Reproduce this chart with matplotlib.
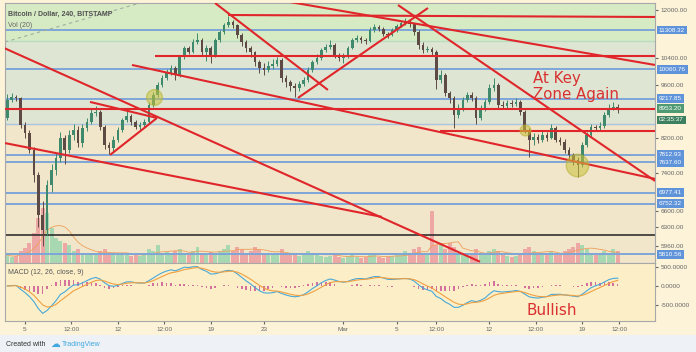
import numpy as np
import pandas as pd
import matplotlib.pyplot as plt
from matplotlib.transforms import blended_transform_factory
from matplotlib.patches import Rectangle

plt.rcParams['font.family'] = ['Liberation Sans', 'DejaVu Sans']

# BTC/USD in 8h steps, day 0 = Feb 5 (first candle Feb 3 16:00)
first_open = 8700
closes = [9189, 9271, 9244, 8532, 8332, 7923, 7357, 6534, 6249, 7142,
          7467, 7737, 8210, 7923, 8283, 8407, 8089, 8457, 8609, 8841,
          8868, 8482, 8041, 7970, 8161, 8407, 8660, 8763, 8609, 8482,
          8532, 8609, 9054, 9326, 9607, 9809, 9955, 10104, 9896, 10439,
          10721, 10595, 10914, 10978, 10595, 10721, 10501, 10978, 11242, 11478,
          11581, 11478, 11143, 10914, 10721, 10595, 10285, 10104, 10044, 10164,
          10224, 10346, 9809, 9693, 9579, 9522, 9636, 9751, 10044, 10285,
          10408, 10658, 10753, 10817, 10501, 10408, 10470, 10721, 10978, 11044,
          10978, 10946, 11309, 11410, 11343, 11176, 11143, 11309, 11444, 11546,
          11581, 11512, 11242, 10817, 10658, 10689, 10595, 9751, 9896, 9382,
          9244, 8789, 8974, 9189, 9326, 9244, 8711, 8974, 9135, 9522,
          9607, 9054, 9027, 9108, 9081, 9135, 8868, 8407, 8161, 8234,
          8161, 8283, 8210, 8457, 8161, 8113, 7923, 7806, 7691, 7578,
          8041, 8283, 8482, 8457, 8507, 8789, 8974, 9000, 8953]
highs = [9350, 9380, 9330, 9280, 8600, 8400, 8000, 7420, 6800, 7250,
         7600, 7850, 8350, 8290, 8400, 8550, 8500, 8560, 8700, 8950,
         9030, 8920, 8540, 8120, 8250, 8480, 8720, 8950, 8820, 8660,
         8600, 8680, 9120, 9420, 9700, 9900, 10080, 10200, 10150, 10500,
         10800, 10780, 11000, 11200, 11050, 10820, 10780, 11050, 11300, 11560,
         11780, 11650, 11520, 11200, 10980, 10780, 10640, 10350, 10250, 10300,
         10380, 10450, 10400, 9900, 9760, 9650, 9720, 9850, 10120, 10350,
         10520, 10720, 10850, 10980, 10880, 10560, 10550, 10800, 11050, 11150,
         11120, 11050, 11400, 11500, 11480, 11400, 11250, 11380, 11520, 11620,
         11720, 11640, 11560, 11300, 10900, 10780, 10760, 10650, 10050, 9950,
         9450, 9300, 9080, 9280, 9420, 9400, 9300, 9050, 9220, 9620,
         9800, 9660, 9150, 9200, 9180, 9250, 9200, 8920, 8460, 8320,
         8300, 8380, 8350, 8560, 8500, 8220, 8180, 7990, 7860, 7760,
         8120, 8350, 8560, 8540, 8600, 8860, 9080, 9120, 9080]
lows = [8650, 9120, 9150, 8450, 8200, 7850, 7200, 6300, 5950, 6150,
        7000, 7350, 7650, 7600, 7850, 8150, 7980, 8000, 8380, 8550,
        8760, 8400, 7950, 7820, 7900, 8100, 8350, 8600, 8540, 8420,
        8400, 8470, 8580, 9000, 9280, 9550, 9750, 9900, 9750, 9850,
        10380, 10520, 10550, 10850, 10500, 10300, 10250, 10450, 10920, 11180,
        11400, 11380, 11050, 10800, 10600, 10450, 10150, 9950, 9900, 9980,
        10080, 10150, 9700, 9550, 9450, 9280, 9450, 9580, 9700, 9980,
        10220, 10350, 10600, 10700, 10420, 10300, 10250, 10420, 10680, 10900,
        10880, 10850, 10900, 11250, 11280, 11100, 11050, 11100, 11250, 11400,
        11480, 11420, 11150, 10700, 10550, 10600, 10500, 9500, 9650, 9300,
        9100, 8450, 8700, 8900, 9120, 9150, 8560, 8650, 8900, 9080,
        9450, 8980, 8950, 8960, 9000, 9030, 8800, 8320, 7750, 8050,
        8080, 8100, 8130, 8180, 8100, 8030, 7850, 7720, 7580, 7320,
        7520, 7980, 8230, 8380, 8400, 8450, 8740, 8920, 8830]
volumes = [800, 600, 700, 1200, 1500, 2000, 3000, 4500, 5500, 5000,
           3500, 2500, 2200, 2000, 1800, 1200, 1400, 1000, 900, 1000,
           800, 1200, 1400, 1000, 900, 800, 1000, 800, 700, 800,
           700, 900, 1400, 1200, 1800, 1000, 1100, 900, 1200, 1400,
           1000, 900, 1200, 1600, 1000, 900, 1100, 1000, 1200, 1400,
           1800, 1200, 1600, 1400, 1000, 1200, 1600, 1400, 1000, 900,
           800, 900, 1400, 1000, 800, 900, 700, 800, 1200, 1000,
           800, 700, 600, 700, 800, 600, 500, 700, 800, 600,
           500, 600, 900, 800, 600, 500, 600, 700, 800, 900,
           1200, 1000, 1400, 1600, 1000, 800, 5200, 1800, 1800, 1400,
           2000, 1600, 1000, 800, 900, 800, 1400, 1000, 900, 1200,
           1400, 1200, 800, 700, 600, 700, 1000, 1400, 1600, 1200,
           800, 900, 1000, 1200, 900, 800, 1200, 1400, 1600, 2000,
           1800, 1400, 1000, 900, 800, 1200, 1000, 1400, 1200]

# horizontal levels on the chart
blue_levels = [11308.32, 10060.76, 9217.85, 7812.93, 7637.60, 6977.41, 6752.32, 5810.56]
key_level = 8953.20
black_level = 6154
# red trend lines as (day, price) pairs
trend_lines = [
    [(-1.58, 10721), (34.29, 5685)],
    [(-1.58, 8089), (26.9, 6494)],
    [(4.9, 9135), (9.95, 8711)],
    [(6.41, 7806), (9.95, 8711)],
    [(8.06, 10194), (47.48, 7270)],
    [(31.27, 8382), (47.48, 8382)],
    [(9.8, 10470), (47.48, 10470)],
    [(15.3, 11823), (47.48, 11754)],
    [(14.32, 12252), (22.83, 9466)],
    [(20.57, 9244), (30.37, 12071)],
    [(28.11, 12179), (47.48, 7226)],
    [(19.97, 12288), (47.48, 10194)],
]
circles = [(9.7, 9270, 130), (37.7, 8400, 60), (41.6, 7580, 260)]  # day, price, marker size

tick_days = [0, 3.5, 7, 10.5, 14, 18, 24, 28, 31, 35, 38.5, 42, 44.8]
tick_labels = ['5', '12:00', '12', '12:00', '19', '23', 'Mar', '5', '12:00', '12', '12:00', '19', '12:00']
price_ticks = [12000, 10400, 9600, 8200, 7400, 6600, 6300, 5960]

n = len(closes)
days = -4 / 3 + np.arange(n) / 3
opens = [first_open] + closes[:-1]
up = np.array(closes) >= np.array(opens)

W, H = 696, 352
fig = plt.figure(figsize=(W / 100, H / 100), dpi=100)
fig.patch.set_facecolor('#fcf3d8')
ax = fig.add_axes([5 / W, 1 - 263 / H, 650 / W, 260 / H])
axm = fig.add_axes([5 / W, 1 - 321 / H, 650 / W, 58 / H], sharex=ax)

ax.set_yscale('log')
ax.set_ylim(5664, 12252)
ax.set_xlim(-1.507, 47.48)
ax.minorticks_off()

# background zones
ax.axhspan(10946, 13000, color='#d6eac4', zorder=0)
ax.axhspan(8556, 10946, color='#dee6d3', zorder=0)
ax.axhspan(5000, 8556, color='#f1e5ca', zorder=0)

# volume overlay
vol_top = 26000
vtr = blended_transform_factory(ax.transData, ax.transAxes)
vol = np.array(volumes)
ax.bar(days, vol / vol_top, width=0.3, bottom=0, transform=vtr,
       color=np.where(up, '#a8d8b2', '#eda7a4'), zorder=1)
vol_ma = pd.Series(vol).rolling(7, min_periods=1).mean()
ax.plot(days, vol_ma / vol_top, transform=vtr, color='#eea05a', lw=0.6, zorder=1.5)

# levels
for lv in blue_levels:
    ax.axhline(lv, color='#7ea6d8', lw=1.4, zorder=2)
ax.axhline(10946, color='#b9dcc0', lw=1.0, zorder=2)
ax.axhline(8556, color='#a9c3e0', lw=1.0, zorder=2)
ax.axhline(black_level, color='#222222', lw=1.1, zorder=2)
ax.plot([-1.51, 8.67], [10914, 12252], color='#a0b0a0', lw=0.8, ls=(0, (3, 3)), zorder=2)

# candles
col = np.where(up, '#3f8a6c', '#5e4a45')
ax.vlines(days, lows, highs, colors=col, lw=0.7, zorder=3)
body_lo = np.minimum(opens, closes)
body_hi = np.maximum(opens, closes)
ax.bar(days, body_hi - body_lo + 1, bottom=body_lo, width=0.2, color=col, zorder=3)

# trend lines
ax.axhline(key_level, color='#e0262a', lw=1.5, zorder=4)
for seg in trend_lines:
    xs, ys = zip(*seg)
    ax.plot(xs, ys, color='#e0262a', lw=1.5, zorder=4, solid_capstyle='butt')
for cx, cy, s in circles:
    ax.scatter(cx, cy, s=s, color='#c9c23a', alpha=0.55, edgecolors='#b8b030', zorder=5)

ax.text(38.25, 9560, 'At Key\nZone Again', color='#d93030', fontsize=10.8,
        family='DejaVu Sans', linespacing=1.05, va='center', ha='left', zorder=6)
ax.text(0.005, 0.955, 'Bitcoin / Dollar, 240, BITSTAMP', transform=ax.transAxes,
        fontsize=5, color='#505050', fontweight='bold', va='center')
ax.text(0.005, 0.912, 'Vol (20)', transform=ax.transAxes, fontsize=5, color='#666666', va='center')

# right price scale
ax.yaxis.tick_right()
ax.set_yticks(price_ticks)
ax.set_yticklabels([f'{v:.2f}' for v in price_ticks])
ax.tick_params(axis='y', labelsize=4.6, colors='#666666', length=2, pad=2)
ax.tick_params(axis='x', labelbottom=False, length=0)
rtr = blended_transform_factory(ax.transAxes, ax.transData)
for lv in blue_levels:
    ax.text(1.006, lv, f'{lv:.2f}', transform=rtr, fontsize=4.6, color='white', va='center',
            bbox=dict(boxstyle='square,pad=0.3', fc='#5f93da', ec='none'), clip_on=False)
ax.text(1.006, key_level, f'{key_level:.2f}', transform=rtr, fontsize=4.6, color='white', va='center',
        bbox=dict(boxstyle='square,pad=0.3', fc='#4f9a72', ec='none'), clip_on=False)
ax.text(1.006, 8660, '02:35:37', transform=rtr, fontsize=4.6, color='white', va='center',
        bbox=dict(boxstyle='square,pad=0.3', fc='#3d8060', ec='none'), clip_on=False)
for s in ax.spines.values():
    s.set_color('#a8a8a8')
    s.set_linewidth(0.8)

# MACD pane
cs = pd.Series(closes, dtype=float)
macd = cs.ewm(span=6, adjust=False).mean() - cs.ewm(span=13, adjust=False).mean()
signal = macd.ewm(span=4.5, adjust=False).mean()
hist = macd - signal
axm.set_facecolor('#fcefc8')
axm.bar(days, hist, width=0.12, color='#d4709e', zorder=2)
axm.plot(days, macd, color='#4aa8d8', lw=0.8, zorder=3)
axm.plot(days, signal, color='#f0a040', lw=0.8, zorder=3)
axm.set_ylim(-921, 605)
axm.yaxis.tick_right()
axm.set_yticks([500, 0, -500])
axm.set_yticklabels(['500.0000', '0.0000', '-500.0000'])
axm.tick_params(axis='y', labelsize=4.6, colors='#666666', length=2, pad=2)
axm.set_xticks(tick_days)
axm.set_xticklabels(tick_labels)
axm.tick_params(axis='x', labelsize=4.6, colors='#666666', length=2, pad=2)
for s in axm.spines.values():
    s.set_color('#a8a8a8')
    s.set_linewidth(0.8)
axm.text(0.005, 0.83, 'MACD (12, 26, close, 9)', transform=axm.transAxes,
         fontsize=5, color='#555555', va='center')
axm.text(37.8, -640, 'Bullish', color='#d93030', fontsize=11, family='DejaVu Sans',
         va='center', ha='left')

# footer strip
fig.patches.append(Rectangle((0, 0), 1, 17 / H, transform=fig.transFigure,
                             fc='#eef1f5', ec='none', zorder=0))
fig.text(6 / W, 8 / H, 'Created with', fontsize=5, color='#333333', va='center')
fig.text(50 / W, 8 / H, '\u2601', fontsize=7, color='#3fa9e0', va='center', family='DejaVu Sans')
fig.text(62 / W, 8 / H, 'TradingView', fontsize=5, color='#3fa9e0', va='center')

fig.savefig('out.png', dpi=100, facecolor=fig.get_facecolor())
